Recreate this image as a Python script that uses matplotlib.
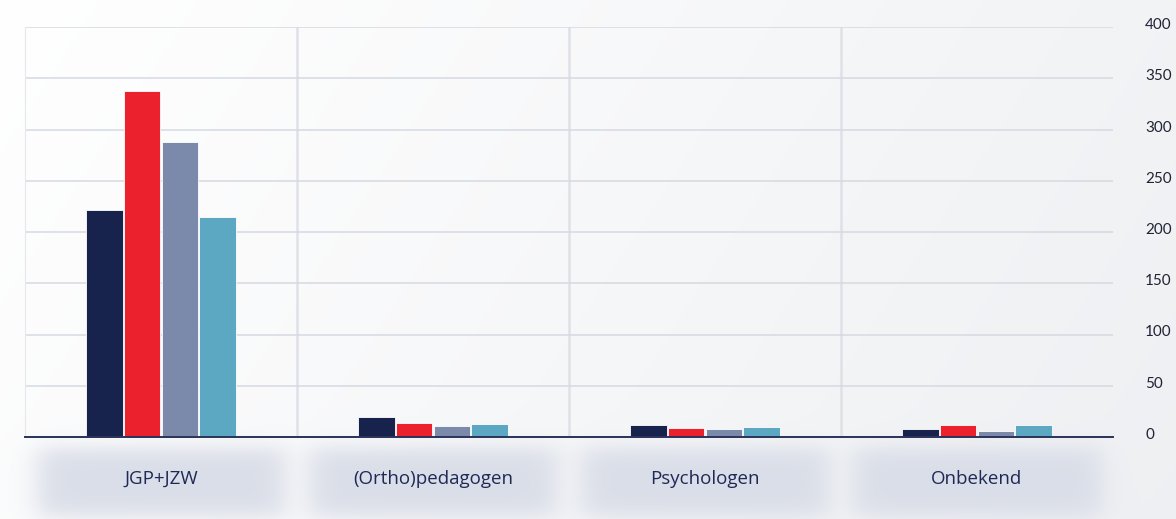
import numpy as np
import matplotlib.pyplot as plt

categories = ["JGP+JZW", "(Ortho)pedagogen", "Psychologen", "Onbekend"]
series_1 = [221, 20, 12, 8]
series_2 = [338, 14, 9, 12]
series_3 = [288, 11, 8, 6]
series_4 = [215, 13, 10, 12]
series = [series_1, series_2, series_3, series_4]
colors = ["#18234d", "#ec212e", "#7b89aa", "#5ca8c3"]
yticks = [0, 50, 100, 150, 200, 250, 300, 350, 400]

W, H = 1176, 519
fig = plt.figure(figsize=(W / 100, H / 100), dpi=100)

# background: white on the left, light grey on the right
bg = fig.add_axes([0, 0, 1, 1], zorder=0)
px = np.arange(W)
py = np.arange(H)
xx, yy = np.meshgrid(px / W, py / H)
val = np.clip(0.7 * xx + 0.2 * yy, 0, 1)
c0 = np.array([1.0, 1.0, 1.0])
c1 = np.array([0.925, 0.933, 0.945])
img = c0 * (1 - val[..., None]) + c1 * val[..., None]

# soft label boxes under each category (blurred look)
def soft(t, a, b, w):
    return 1 / (1 + np.exp(-(t - a) / w)) * 1 / (1 + np.exp((t - b) / w))

box_col = np.array([0.855, 0.871, 0.91])
XX, YY = np.meshgrid(px, py)
for k in range(len(categories)):
    left = 25 + k * 272
    a = soft(XX, left + 12, left + 260, 8) * soft(YY, 448, 516, 6)
    img = img * (1 - a[..., None]) + box_col * a[..., None]

bg.imshow(img, extent=[0, W, H, 0], aspect="auto", interpolation="bilinear")
bg.set_xlim(0, W)
bg.set_ylim(H, 0)
bg.axis("off")

ax = fig.add_axes([25 / W, 1 - 437 / H, (1113 - 25) / W, 410 / H], zorder=1)
ax.set_facecolor("none")

x = np.arange(len(categories))
bw = 0.134
for i, vals in enumerate(series):
    ax.bar(x + (i - 1.5) * (bw + 0.004), vals, width=bw, color=colors[i],
           edgecolor="white", linewidth=0.6, zorder=3)

ax.set_xlim(-0.5, len(categories) - 0.5)
ax.set_ylim(0, 400)
ax.set_yticks(yticks)
ax.grid(axis="y", color="#d6d9e2", linewidth=1.1, zorder=0)
ax.tick_params(axis="y", length=0, labelleft=False, labelright=False)
ax.set_xticks([])
for s in ["top", "right"]:
    ax.spines[s].set_visible(False)
ax.spines["left"].set_color("#e6e8ec")
ax.spines["bottom"].set_color("#2a3358")
ax.spines["bottom"].set_linewidth(1.4)
ax.spines["bottom"].set_zorder(4)

# category separators
for sx in x[1:] - 0.5:
    ax.axvline(sx, color="#dfe1e9", linewidth=1.8, zorder=1)

# y tick labels on the right, cut off at the edge like the reference
for t in yticks:
    fig.text(1145 / W, 1 - (437 - t * 410 / 400 - 2) / H, str(t), ha="left",
             va="center", fontsize=11, color="#1f2335", family="Lato")

# category labels
for k, cat in enumerate(categories):
    fig.text((25 + k * 272 + 136) / W, 1 - 479 / H, cat, ha="center",
             va="center", fontsize=13.5, color="#1e2a55", family="Open Sans")

fig.savefig("out.png", dpi=100)
